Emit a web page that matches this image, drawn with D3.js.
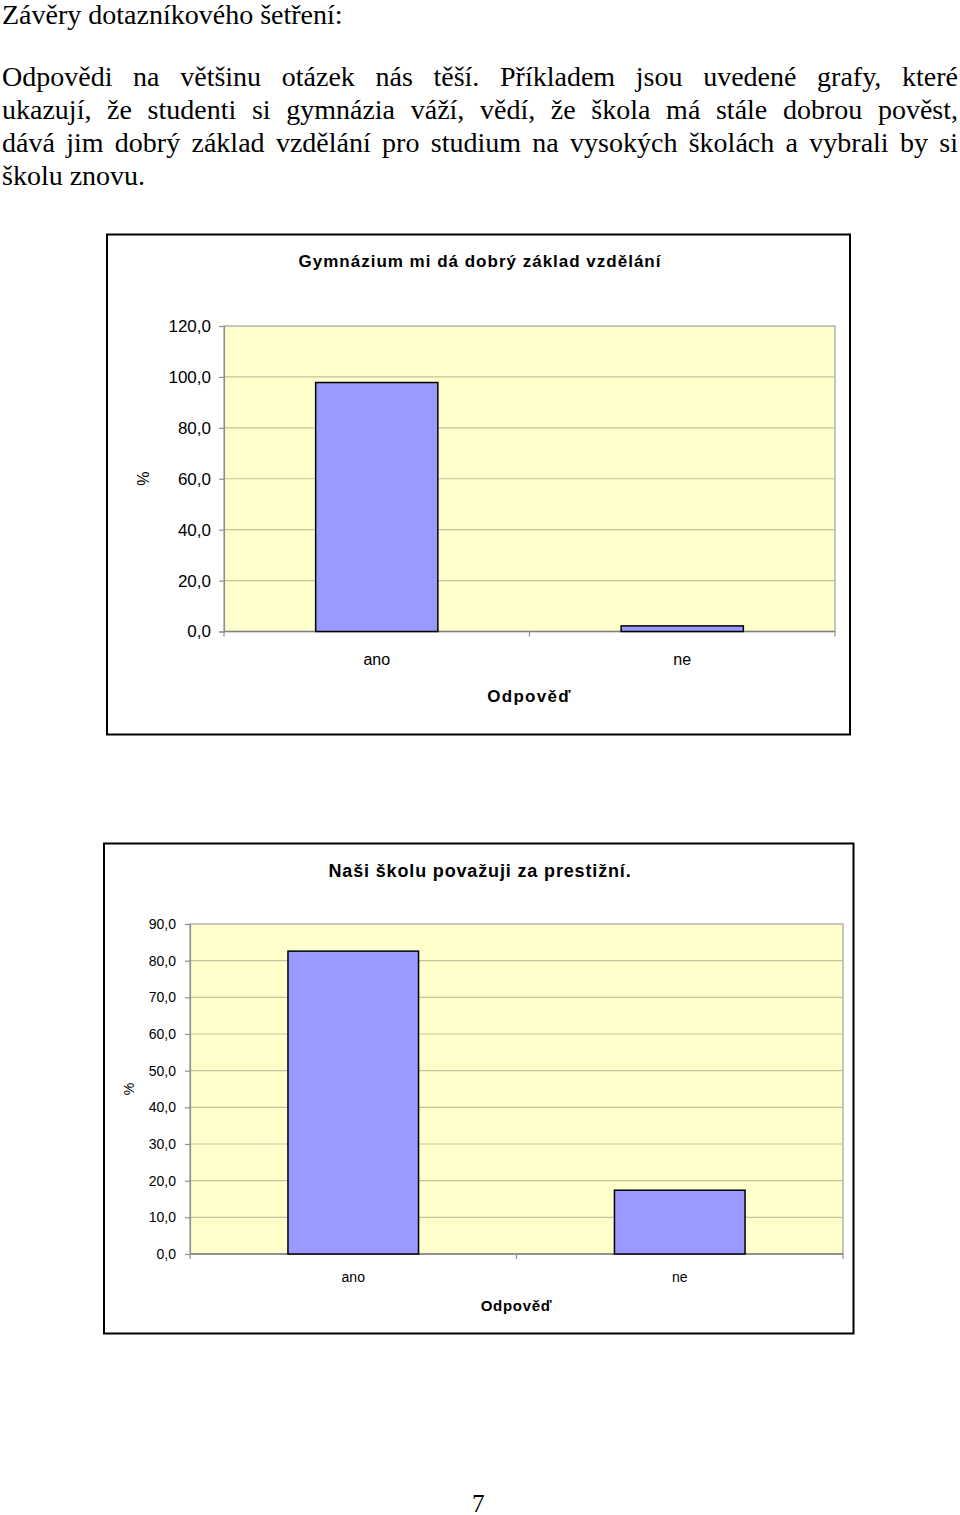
<!DOCTYPE html>
<html>
<head>
<meta charset="utf-8">
<script src="https://cdn.jsdelivr.net/npm/d3@7"></script>
<style>
  html, body { margin: 0; padding: 0; background: #fff; }
  body { width: 960px; height: 1515px; position: relative; overflow: hidden; }
  .t { position: absolute; font-family: "Liberation Serif", "Times New Roman", serif; font-size: 28px; color: #000; white-space: nowrap; line-height: 1; }
  .j { text-align: justify; text-align-last: justify; white-space: normal; }
  svg { position: absolute; left: 0; top: 0; }
</style>
</head>
<body>
<div id="page"></div>
<svg id="chart" width="960" height="1515"></svg>
<script>
// ---------- text content ----------
const heading = "Závěry dotazníkového šetření:";
const paragraphLines = [
  "Odpovědi na většinu otázek nás těší. Příkladem jsou uvedené grafy, které",
  "ukazují, že studenti si gymnázia váží, vědí, že škola má stále dobrou pověst,",
  "dává jim dobrý základ vzdělání pro studium na vysokých školách a vybrali by si",
  "školu znovu."
];
const pageNumber = "7";

// ---------- chart data ----------
const categories = ["ano", "ne"];
const chart1Title = "Gymnázium mi dá dobrý základ vzdělání";
const chart1Values = [97.8, 2.2];
const chart1Ticks = [0, 20, 40, 60, 80, 100, 120];
const chart2Title = "Naši školu považuji za prestižní.";
const chart2Values = [82.6, 17.4];
const chart2Ticks = [0, 10, 20, 30, 40, 50, 60, 70, 80, 90];
const xAxisTitle = "Odpověď";
const yAxisTitle = "%";

// ---------- page text ----------
const page = d3.select("#page");
page.append("div").attr("class", "t").style("left", "2px").style("top", "1px").text(heading);
paragraphLines.forEach((line, i) => {
  const last = i === paragraphLines.length - 1;
  page.append("div")
    .attr("class", last ? "t" : "t j")
    .style("left", "2px")
    .style("width", last ? null : "956px")
    .style("top", (63 + i * 33) + "px")
    .text(line);
});
page.append("div").attr("class", "t")
  .style("left", "472px").style("top", "1491px").style("font-size", "25px")
  .text(pageNumber);

// ---------- charts ----------
const locale = d3.formatLocale({ decimal: ",", thousands: " ", grouping: [3], currency: ["", ""] });
const fmt = locale.format(".1f");
const svg = d3.select("#chart");

function drawChart(cfg) {
  const g = svg.append("g");
  // outer frame
  g.append("rect")
    .attr("x", cfg.frame.x).attr("y", cfg.frame.y)
    .attr("width", cfg.frame.w).attr("height", cfg.frame.h)
    .attr("fill", "#fff").attr("stroke", "#000").attr("stroke-width", 2);

  const x = d3.scaleBand().domain(categories).range([cfg.plot.x, cfg.plot.x + cfg.plot.w]).padding(0);
  const y = d3.scaleLinear().domain([0, cfg.yMax]).range([cfg.plot.y + cfg.plot.h, cfg.plot.y]);

  // plot area
  g.append("rect")
    .attr("x", cfg.plot.x).attr("y", cfg.plot.y)
    .attr("width", cfg.plot.w).attr("height", cfg.plot.h)
    .attr("fill", "#ffffcc").attr("stroke", "#a0a0a0").attr("stroke-width", 1.2);

  // gridlines
  g.append("g").selectAll("line")
    .data(cfg.ticks.filter(t => t > 0 && t < cfg.yMax))
    .join("line")
    .attr("x1", cfg.plot.x).attr("x2", cfg.plot.x + cfg.plot.w)
    .attr("y1", d => y(d)).attr("y2", d => y(d))
    .attr("stroke", "#c4c49c").attr("stroke-width", 1.2);

  // y axis
  const yAxis = d3.axisLeft(y).tickValues(cfg.ticks).tickFormat(fmt).tickSize(5).tickPadding(cfg.tickPad);
  const ya = g.append("g").attr("transform", `translate(${cfg.plot.x},0)`).call(yAxis);
  ya.select(".domain").attr("stroke", "#909090").attr("stroke-width", 1.2);
  ya.selectAll(".tick line").attr("stroke", "#909090").attr("stroke-width", 1.2);
  ya.selectAll(".tick text")
    .attr("font-family", "Arial, 'Liberation Sans', sans-serif")
    .attr("font-size", cfg.yTickFont).attr("fill", "#000");

  // x axis: ticks at category boundaries
  const bounds = [cfg.plot.x, cfg.plot.x + x.step(), cfg.plot.x + 2 * x.step()];
  const base = y(0);
  g.append("line").attr("x1", cfg.plot.x).attr("x2", cfg.plot.x + cfg.plot.w)
    .attr("y1", base).attr("y2", base).attr("stroke", "#808080").attr("stroke-width", 1.5);
  g.append("g").selectAll("line").data(bounds).join("line")
    .attr("x1", d => d).attr("x2", d => d)
    .attr("y1", base).attr("y2", base + 5)
    .attr("stroke", "#909090").attr("stroke-width", 1.2);

  // bars
  const bw = x.bandwidth() * 0.4;
  g.append("g").selectAll("rect")
    .data(categories.map((c, i) => ({ c, v: cfg.values[i] })))
    .join("rect")
    .attr("x", d => x(d.c) + (x.bandwidth() - bw) / 2)
    .attr("y", d => y(d.v))
    .attr("width", bw)
    .attr("height", d => base - y(d.v))
    .attr("fill", "#9999ff").attr("stroke", "#000").attr("stroke-width", 1.5);

  // category labels
  g.append("g").selectAll("text").data(categories).join("text")
    .attr("x", d => x(d) + x.bandwidth() / 2)
    .attr("y", cfg.catY)
    .attr("text-anchor", "middle")
    .attr("font-family", "Arial, 'Liberation Sans', sans-serif")
    .attr("font-size", cfg.tickFont)
    .text(d => d);

  // x axis title
  g.append("text")
    .attr("x", cfg.plot.x + cfg.plot.w / 2).attr("y", cfg.xTitleY)
    .attr("text-anchor", "middle")
    .attr("font-family", "Arial, 'Liberation Sans', sans-serif")
    .attr("font-weight", "bold").attr("font-size", cfg.axisTitleFont)
    .attr("letter-spacing", cfg.axisTitleSpacing)
    .text(xAxisTitle);

  // y axis title (rotated)
  g.append("text")
    .attr("transform", `translate(${cfg.yTitleX},${cfg.plot.y + cfg.plot.h / 2}) rotate(-90)`)
    .attr("text-anchor", "middle")
    .attr("font-family", "Arial, 'Liberation Sans', sans-serif")
    .attr("font-size", cfg.tickFont)
    .text(yAxisTitle);

  // chart title
  g.append("text")
    .attr("x", cfg.titleX).attr("y", cfg.titleY)
    .attr("text-anchor", "middle")
    .attr("font-family", "Arial, 'Liberation Sans', sans-serif")
    .attr("font-weight", "bold").attr("font-size", cfg.titleFont)
    .attr("letter-spacing", cfg.titleSpacing)
    .text(cfg.title);
}

drawChart({
  frame: { x: 107, y: 234.5, w: 743, h: 500 },
  plot: { x: 224, y: 326, w: 611, h: 305.5 },
  yMax: 120, ticks: chart1Ticks, values: chart1Values,
  tickFont: 16, yTickFont: 17, tickPad: 8, catY: 665, xTitleY: 702, axisTitleFont: 17, axisTitleSpacing: 1.3, yTitleX: 149,
  title: chart1Title, titleX: 480, titleY: 267, titleFont: 17, titleSpacing: 1.0
});

drawChart({
  frame: { x: 104, y: 843.5, w: 749.5, h: 490 },
  plot: { x: 190, y: 924, w: 653, h: 330 },
  yMax: 90, ticks: chart2Ticks, values: chart2Values,
  tickFont: 14, yTickFont: 14, tickPad: 9, catY: 1282, xTitleY: 1311, axisTitleFont: 15, axisTitleSpacing: 0.7, yTitleX: 134,
  title: chart2Title, titleX: 480, titleY: 877, titleFont: 18, titleSpacing: 0.85
});
</script>
</body>
</html>
